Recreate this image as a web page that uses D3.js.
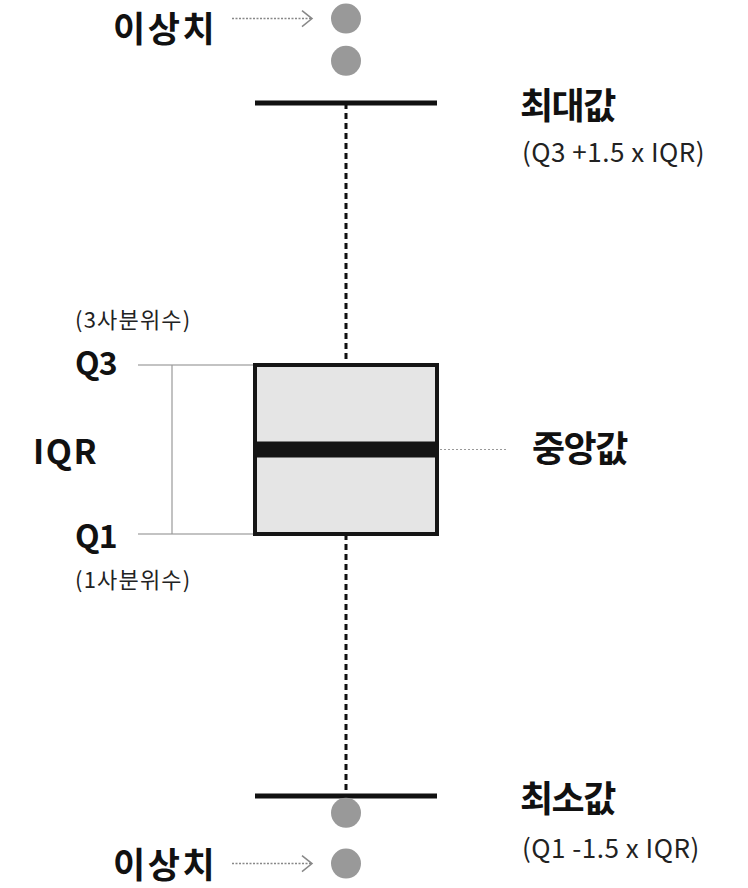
<!DOCTYPE html>
<html><head><meta charset="utf-8">
<script src="https://cdn.jsdelivr.net/npm/d3@7"></script>
<style>html,body{margin:0;padding:0;background:#fff;}svg{display:block;}</style>
</head><body>
<script>
// ---- data ----
const quartiles = {q1: 40, median: 50, q3: 60};
const whiskers = {low: 9, high: 91};
const outliersHigh = [101, 96];
const outliersLow = [7, 1];
const labelsRight = ["최대값", "중앙값", "최소값"];
const formulaLabels = ["(Q3 +1.5 x IQR)", "(Q1 -1.5 x IQR)"];
const leftLabels = ["Q3", "IQR", "Q1"];
const quartileNotes = ["(3사분위수)", "(1사분위수)"];
const outlierLabel = "이상치";

const W = 748, H = 888;
const svg = d3.select("body").append("svg").attr("width", W).attr("height", H);

const y = d3.scaleLinear().domain([0, 100]).range([872, 27]);
const x = d3.scaleLinear().domain([0, 1]).range([255, 437]);
const cx = x(0.5);
const KR = "'Noto Sans CJK KR', 'Noto Sans', sans-serif";

// whisker dashed line
svg.append("line").attr("x1", cx).attr("x2", cx).attr("y1", y(whiskers.high)).attr("y2", y(quartiles.q3))
  .attr("stroke", "#111").attr("stroke-width", 3).attr("stroke-dasharray", "6,4");
svg.append("line").attr("x1", cx).attr("x2", cx).attr("y1", y(quartiles.q1)).attr("y2", y(whiskers.low))
  .attr("stroke", "#111").attr("stroke-width", 3).attr("stroke-dasharray", "6,4");

// whisker caps
[whiskers.high, whiskers.low].forEach(v => {
  svg.append("line").attr("x1", x(0)).attr("x2", x(1)).attr("y1", y(v)).attr("y2", y(v))
    .attr("stroke", "#111").attr("stroke-width", 5);
});

// box
svg.append("rect").attr("x", x(0)).attr("y", y(quartiles.q3))
  .attr("width", x(1) - x(0)).attr("height", y(quartiles.q1) - y(quartiles.q3))
  .attr("fill", "#e5e5e5").attr("stroke", "#151515").attr("stroke-width", 4);
// median
svg.append("line").attr("x1", x(0)).attr("x2", x(1)).attr("y1", y(quartiles.median)).attr("y2", y(quartiles.median))
  .attr("stroke", "#151515").attr("stroke-width", 16);

// outliers
svg.selectAll("circle.o").data(outliersHigh.concat(outliersLow)).join("circle")
  .attr("cx", cx).attr("cy", d => y(d)).attr("r", 15).attr("fill", "#999");

// IQR guide lines
[quartiles.q3, quartiles.q1].forEach(v => {
  svg.append("line").attr("x1", 138).attr("x2", x(0) - 2).attr("y1", y(v)).attr("y2", y(v))
    .attr("stroke", "#888").attr("stroke-width", 1.2);
});
svg.append("line").attr("x1", 172).attr("x2", 172).attr("y1", y(quartiles.q3)).attr("y2", y(quartiles.q1))
  .attr("stroke", "#999").attr("stroke-width", 1.2);

// median dotted guide
svg.append("line").attr("x1", x(1) + 3).attr("x2", 508).attr("y1", y(quartiles.median)).attr("y2", y(quartiles.median))
  .attr("stroke", "#999").attr("stroke-width", 1).attr("stroke-dasharray", "2,2");

// outlier arrows
[outliersHigh[0], outliersLow[1]].forEach((v, i) => {
  const yy = y(v);
  svg.append("line").attr("x1", 232).attr("x2", 312).attr("y1", yy).attr("y2", yy)
    .attr("stroke", "#888").attr("stroke-width", 1.5).attr("stroke-dasharray", "2,1.5");
  svg.append("path").attr("d", `M302,${yy - 8}L312,${yy}L302,${yy + 8}`)
    .attr("fill", "none").attr("stroke", "#888").attr("stroke-width", 1.5);
  svg.append("text").attr("x", 113).attr("y", i === 0 ? 26 : 862).attr("dominant-baseline", "central")
    .attr("font-family", KR).attr("font-weight", 700).attr("font-size", 35).attr("letter-spacing", 2.5)
    .attr("fill", "#111").text(outlierLabel);
});

// right labels
const rightY = [y(whiskers.high), y(quartiles.median) - 4, y(whiskers.low)];
const rightX = [520, 532, 520];
labelsRight.forEach((t, i) => {
  svg.append("text").attr("x", rightX[i]).attr("y", rightY[i]).attr("dominant-baseline", "central")
    .attr("font-family", KR).attr("font-weight", 700).attr("font-size", 36).attr("letter-spacing", -1.5)
    .attr("fill", "#111").text(t);
});
formulaLabels.forEach((t, i) => {
  const yy = i === 0 ? y(whiskers.high) + 47 : y(whiskers.low) + 51;
  svg.append("text").attr("x", 522).attr("y", yy).attr("dominant-baseline", "central")
    .attr("font-family", KR).attr("font-weight", 400).attr("font-size", 26).attr("letter-spacing", 0.5)
    .attr("fill", "#222").text(t);
});

// left labels
const leftY = [y(quartiles.q3) - 4, y(quartiles.median), y(quartiles.q1)];
const leftX = [75, 33, 75];
const leftSize = [32, 34, 32];
const leftSpacing = [-1, 1.5, -1];
leftLabels.forEach((t, i) => {
  svg.append("text").attr("x", leftX[i]).attr("y", leftY[i]).attr("dominant-baseline", "central")
    .attr("font-family", KR).attr("font-weight", 700).attr("font-size", leftSize[i]).attr("letter-spacing", leftSpacing[i])
    .attr("fill", "#111").text(t);
});
quartileNotes.forEach((t, i) => {
  const yy = i === 0 ? y(quartiles.q3) - 47 : y(quartiles.q1) + 44;
  svg.append("text").attr("x", 75).attr("y", yy).attr("dominant-baseline", "central")
    .attr("font-family", KR).attr("font-weight", 400).attr("font-size", 22).attr("letter-spacing", 1.2)
    .attr("fill", "#222").text(t);
});
</script>
</body></html>
